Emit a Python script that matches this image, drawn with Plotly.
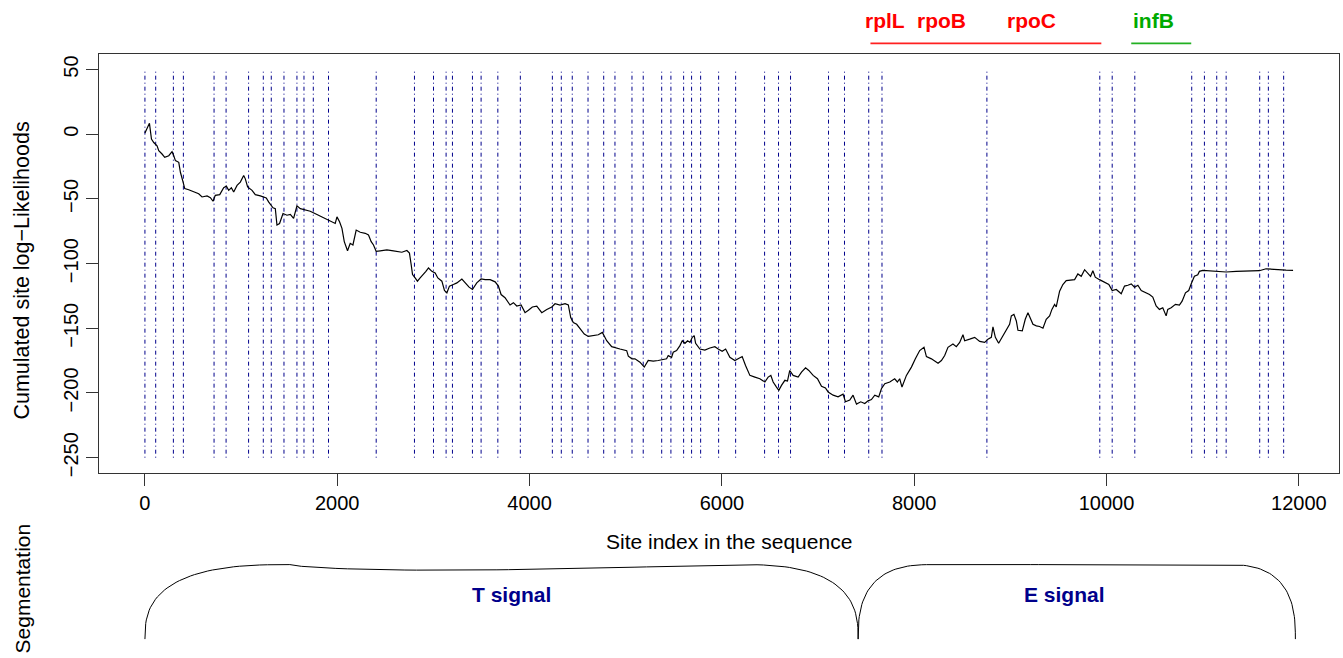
import numpy as np
import plotly.graph_objects as go

# ---- cumulated site log-likelihood profile ----
site_index = [
    0, 47, 68, 92, 126, 144, 178, 206, 248, 282, 300, 317, 352, 369, 397, 414, 455, 507, 559, 594,
    646, 681, 708, 732, 778, 819, 847, 871, 899, 923, 958, 992, 1027, 1044, 1068, 1114, 1148, 1200,
    1262, 1286, 1332, 1356, 1373, 1400, 1436, 1477, 1512, 1546, 1581, 1616, 1668, 1719, 1789, 1858,
    1927, 1979, 1997, 2024, 2049, 2073, 2107, 2135, 2163, 2197, 2239, 2291, 2325, 2353, 2377, 2405,
    2447, 2516, 2585, 2672, 2724, 2751, 2769, 2783, 2810, 2834, 2862, 2897, 2922, 2949, 2984, 3018,
    3046, 3088, 3115, 3140, 3167, 3208, 3244, 3296, 3330, 3371, 3406, 3451, 3496, 3538, 3590, 3642,
    3676, 3704, 3745, 3797, 3832, 3867, 3912, 3953, 3988, 4029, 4075, 4127, 4179, 4231, 4265, 4317,
    4369, 4403, 4428, 4455, 4490, 4525, 4569, 4611, 4663, 4715, 4757, 4778, 4802, 4854, 4888, 4940,
    5010, 5027, 5065, 5096, 5148, 5193, 5234, 5286, 5338, 5373, 5425, 5442, 5477, 5494, 5529, 5564,
    5588, 5616, 5644, 5668, 5692, 5712, 5727, 5771, 5823, 5875, 5927, 5962, 6003, 6039, 6083, 6135,
    6169, 6211, 6246, 6291, 6343, 6395, 6447, 6481, 6509, 6533, 6568, 6592, 6620, 6655, 6682, 6706,
    6741, 6793, 6828, 6870, 6904, 6949, 6994, 7036, 7077, 7105, 7157, 7208, 7260, 7285, 7330, 7364,
    7400, 7444, 7486, 7520, 7555, 7590, 7631, 7659, 7694, 7746, 7797, 7825, 7849, 7873, 7919, 7971,
    8012, 8057, 8102, 8127, 8179, 8248, 8283, 8317, 8351, 8403, 8438, 8473, 8507, 8525, 8577, 8629,
    8681, 8733, 8767, 8802, 8819, 8844, 8878, 8923, 8958, 8992, 9010, 9037, 9062, 9079, 9124, 9155,
    9183, 9210, 9235, 9270, 9304, 9339, 9373, 9408, 9432, 9460, 9477, 9512, 9546, 9581, 9633, 9668,
    9702, 9737, 9772, 9806, 9834, 9858, 9883, 9927, 9979, 10024, 10059, 10101, 10153, 10187, 10222,
    10257, 10291, 10326, 10361, 10413, 10447, 10481, 10516, 10550, 10585, 10620, 10637, 10672, 10717,
    10758, 10786, 10821, 10855, 10880, 10914, 10949, 10966, 11001, 11070, 11174, 11244, 11348, 11486,
    11590, 11659, 11763, 11867, 11940,
]
cum_loglik = [
    1.0, 8.4, -3.8, -6.4, -8.9, -12.8, -15.3, -17.9, -16.6, -13.5, -16.6, -20.4, -21.7, -29.4, -37.0,
    -42.0, -42.9, -44.2, -46.0, -48.5, -47.7, -49.0, -51.8, -47.2, -46.7, -41.4, -40.1, -43.4, -41.4,
    -44.7, -39.6, -37.0, -31.9, -34.5, -40.8, -43.4, -46.7, -47.7, -49.3, -52.3, -56.9, -57.5, -70.2,
    -69.0, -61.3, -62.6, -62.0, -65.1, -55.4, -57.5, -58.7, -59.5, -62.0, -64.6, -67.2, -69.0, -63.9,
    -67.7, -72.8, -83.0, -90.1, -84.3, -85.6, -74.1, -75.8, -76.6, -77.9, -83.0, -85.6, -90.6, -90.1,
    -89.4, -90.1, -91.2, -89.9, -91.9, -100.9, -108.5, -111.1, -113.6, -111.1, -108.5, -106.0, -103.4,
    -106.0, -107.3, -111.1, -113.6, -120.8, -122.6, -117.4, -116.2, -114.9, -111.9, -114.9, -118.2,
    -120.0, -114.9, -111.9, -112.4, -112.4, -114.1, -117.4, -123.9, -126.4, -132.0, -130.2, -132.8,
    -132.0, -137.9, -136.1, -133.5, -132.8, -137.9, -135.4, -133.5, -131.0, -132.0, -131.0, -132.0,
    -141.7, -145.6, -146.9, -150.7, -154.5, -156.3, -155.7, -155.0, -153.2, -155.7, -159.6, -164.2,
    -164.7, -166.0, -167.3, -171.5, -173.6, -173.6, -176.2, -180.0, -174.9, -175.4, -174.9, -174.4,
    -173.6, -171.1, -172.4, -168.5, -167.2, -163.4, -159.6, -161.6, -159.6, -160.9, -157.0, -155.7,
    -161.6, -166.0, -166.8, -165.2, -164.2, -166.0, -167.8, -166.0, -172.4, -174.9, -173.6, -171.8,
    -178.7, -186.4, -187.7, -189.0, -191.5, -187.7, -186.4, -191.5, -195.4, -197.9, -194.1, -190.2,
    -190.8, -182.6, -186.4, -187.7, -183.9, -180.6, -182.6, -186.4, -189.0, -194.8, -196.1, -199.2,
    -201.7, -203.0, -200.9, -206.8, -205.5, -201.7, -208.6, -206.8, -208.1, -206.1, -205.1, -201.7,
    -203.0, -196.7, -192.8, -191.5, -189.0, -191.5, -189.0, -195.4, -186.4, -180.0, -173.6, -167.2,
    -164.7, -171.9, -173.6, -177.0, -174.9, -171.1, -164.7, -162.2, -164.2, -160.9, -155.0, -159.6,
    -158.4, -157.0, -160.1, -160.9, -158.4, -157.0, -148.9, -157.0, -161.6, -155.7, -150.7, -146.9,
    -140.4, -139.2, -144.3, -151.5, -152.0, -143.0, -137.9, -143.0, -146.9, -148.1, -148.6, -149.9,
    -143.0, -140.4, -135.4, -131.5, -133.5, -121.3, -116.2, -113.2, -112.9, -112.4, -108.0, -109.8,
    -104.7, -108.0, -109.8, -105.5, -110.5, -112.4, -114.2, -116.2, -120.8, -120.0, -123.3, -117.4,
    -116.7, -115.7, -118.2, -116.7, -120.8, -122.6, -123.9, -125.9, -132.8, -135.4, -134.1, -140.4,
    -135.4, -134.1, -131.5, -132.0, -129.0, -122.6, -120.8, -115.7, -109.8, -108.6, -106.0, -105.2,
    -105.5, -106.0, -106.5, -106.0, -106.0, -105.5, -104.0, -104.7, -105.0, -105.2,
]

# ---- breakpoint positions (dash-dot markers) ----
breakpoints = [
    0, 112, 296, 400, 719, 844, 1078, 1231, 1314, 1446, 1581, 1654, 1751, 1909, 2405, 2803, 3001,
    3132, 3198, 3406, 3496, 3670, 3904, 4237, 4330, 4444, 4608, 4771, 4888, 5065, 5182, 5374, 5470,
    5602, 5685, 5779, 5966, 6143, 6444, 6589, 6714, 7109, 7275, 7527, 7665, 8756, 9930, 10059,
    10294, 10886, 11018, 11146, 11244, 11593, 11683, 11842,
]
breakpoint_ymin, breakpoint_ymax = -250, 50

# ---- gene annotations ----
gene_names = ["rplL", "rpoB", "rpoC", "infB"]
gene_label_x = [7694, 8286, 9221, 10488]
gene_colors = ["#ff0000", "#ff0000", "#ff0000", "#00aa00"]
operon_start = [7545, 10257]
operon_end = [9946, 10881]
operon_colors = ["#ff2020", "#22b022"]

# ---- segmentation ----
segment_names = ["T signal", "E signal"]
segment_start = [0, 7417]
segment_end = [7417, 11964]
segment_label_x = [3810, 9560]

# axis ticks
x_ticks = [0, 2000, 4000, 6000, 8000, 10000, 12000]
y_ticks = [-250, -200, -150, -100, -50, 0, 50]

FONT = "Liberation Sans, Arial, Helvetica, sans-serif"
BLUE = "#00008b"
AXIS_COLOR = "#333333"

# R-style 4% padding of the data ranges
x_lo, x_hi = 0, max(site_index)
x_pad = 0.04 * (x_hi - x_lo)
y_pad = 0.04 * (breakpoint_ymax - breakpoint_ymin)


def brace_path(x0, x1, w_left, w_right, sag, n=2.7, npts=40):
    """Curly bracket spanning [x0, x1]; ends at y=0, top at y=1."""
    xs, ys = [], []
    th = np.linspace(0, np.pi / 2, npts)
    xs += list(x0 + w_left * (1 - np.cos(th) ** (2 / n)))
    ys += list(np.sin(th) ** (2 / n))
    a, b = x0 + w_left, x1 - w_right
    u = np.linspace(0, 1, npts)
    xs += list(a + (b - a) * u)
    ys += list(1 - sag * np.sin(np.pi * u ** 0.63))
    th = th[::-1]
    xs += list(x1 - w_right * (1 - np.cos(th) ** (2 / n)))
    ys += list(np.sin(th) ** (2 / n))
    return xs, ys


fig = go.Figure()

# vertical breakpoint markers
bx, by = [], []
for p in breakpoints:
    bx += [p, p, None]
    by += [breakpoint_ymin, breakpoint_ymax, None]
fig.add_trace(go.Scatter(
    x=bx, y=by, mode="lines", hoverinfo="skip",
    line=dict(color=BLUE, width=1, dash="1px,3px,4px,3px"),
))

# cumulated log-likelihood curve
fig.add_trace(go.Scatter(
    x=site_index, y=cum_loglik, mode="lines",
    line=dict(color="black", width=1.2),
))

# segmentation braces in the lower panel
brace_shape = {"T signal": (1507, 1244, 0.075), "E signal": (783, 727, 0.0)}
for name, s, e in zip(segment_names, segment_start, segment_end):
    wl, wr, sag = brace_shape[name]
    xs, ys = brace_path(s, e, wl, wr, sag)
    fig.add_trace(go.Scatter(
        x=xs, y=ys, mode="lines", xaxis="x2", yaxis="y2",
        line=dict(color="black", width=1), hoverinfo="skip",
    ))

annotations = []
for name, lx in zip(segment_names, segment_label_x):
    annotations.append(dict(
        x=lx, y=0.604, xref="x2", yref="y2", text="<b>%s</b>" % name,
        showarrow=False, font=dict(family=FONT, size=21, color=BLUE),
        xanchor="center", yanchor="middle",
    ))

for name, lx, col in zip(gene_names, gene_label_x, gene_colors):
    annotations.append(dict(
        x=lx, y=1.0551, xref="x", yref="paper", text="<b>%s</b>" % name,
        showarrow=False, font=dict(family=FONT, size=21, color=col),
        xanchor="center", yanchor="middle",
    ))

# axis titles
annotations.append(dict(
    x=0.508, y=(658 - 545) / 604, xref="paper", yref="paper",
    text="Site index in the sequence", showarrow=False,
    font=dict(family=FONT, size=21, color="black"),
    xanchor="center", yanchor="middle",
))
annotations.append(dict(
    x=(22 - 99) / 1240, y=(658 - 272) / 604, xref="paper", yref="paper",
    text="Cumulated site log\u2212Likelihoods", showarrow=False, textangle=-90,
    font=dict(family=FONT, size=21.5, color="black"),
    xanchor="center", yanchor="middle",
))
annotations.append(dict(
    x=(22 - 99) / 1240, y=(658 - 592) / 604, xref="paper", yref="paper",
    text="Segmentation", showarrow=False, textangle=-90,
    font=dict(family=FONT, size=21, color="black"),
    xanchor="center", yanchor="middle",
))

shapes = []
for s, e, col in zip(operon_start, operon_end, operon_colors):
    shapes.append(dict(
        type="line", xref="x", yref="paper", x0=s, x1=e,
        y0=1.0177, y1=1.0177, line=dict(color=col, width=1.8),
    ))

main_bottom = (658 - 476) / 604

fig.update_layout(
    width=1343, height=658,
    margin=dict(l=99, r=4, t=54, b=0),
    paper_bgcolor="white", plot_bgcolor="white",
    showlegend=False,
    font=dict(family=FONT, size=20, color="black"),
    xaxis=dict(
        domain=[0, 1], anchor="y",
        range=[x_lo - x_pad, x_hi + x_pad],
        tickvals=x_ticks, ticktext=[str(t) for t in x_ticks],
        ticks="outside", ticklen=12, tickcolor=AXIS_COLOR, tickwidth=1,
        showline=True, mirror=True, linecolor=AXIS_COLOR, linewidth=1,
        showgrid=False, zeroline=False,
        tickfont=dict(family=FONT, size=20, color="black"),
    ),
    yaxis=dict(
        domain=[main_bottom, 1], anchor="x",
        range=[breakpoint_ymin - y_pad, breakpoint_ymax + y_pad],
        tickvals=y_ticks, ticktext=[str(t).replace("-", "\u2212") for t in y_ticks],
        tickangle=-90,
        ticks="outside", ticklen=12, tickcolor=AXIS_COLOR, tickwidth=1,
        showline=True, mirror=True, linecolor=AXIS_COLOR, linewidth=1,
        showgrid=False, zeroline=False,
        tickfont=dict(family=FONT, size=20, color="black"),
    ),
    xaxis2=dict(domain=[0, 1], anchor="y2", matches="x", visible=False),
    yaxis2=dict(domain=[0, main_bottom], anchor="x2", range=[-0.2, 2.2267],
                visible=False),
    annotations=annotations,
    shapes=shapes,
)

fig.write_html("out.html")
